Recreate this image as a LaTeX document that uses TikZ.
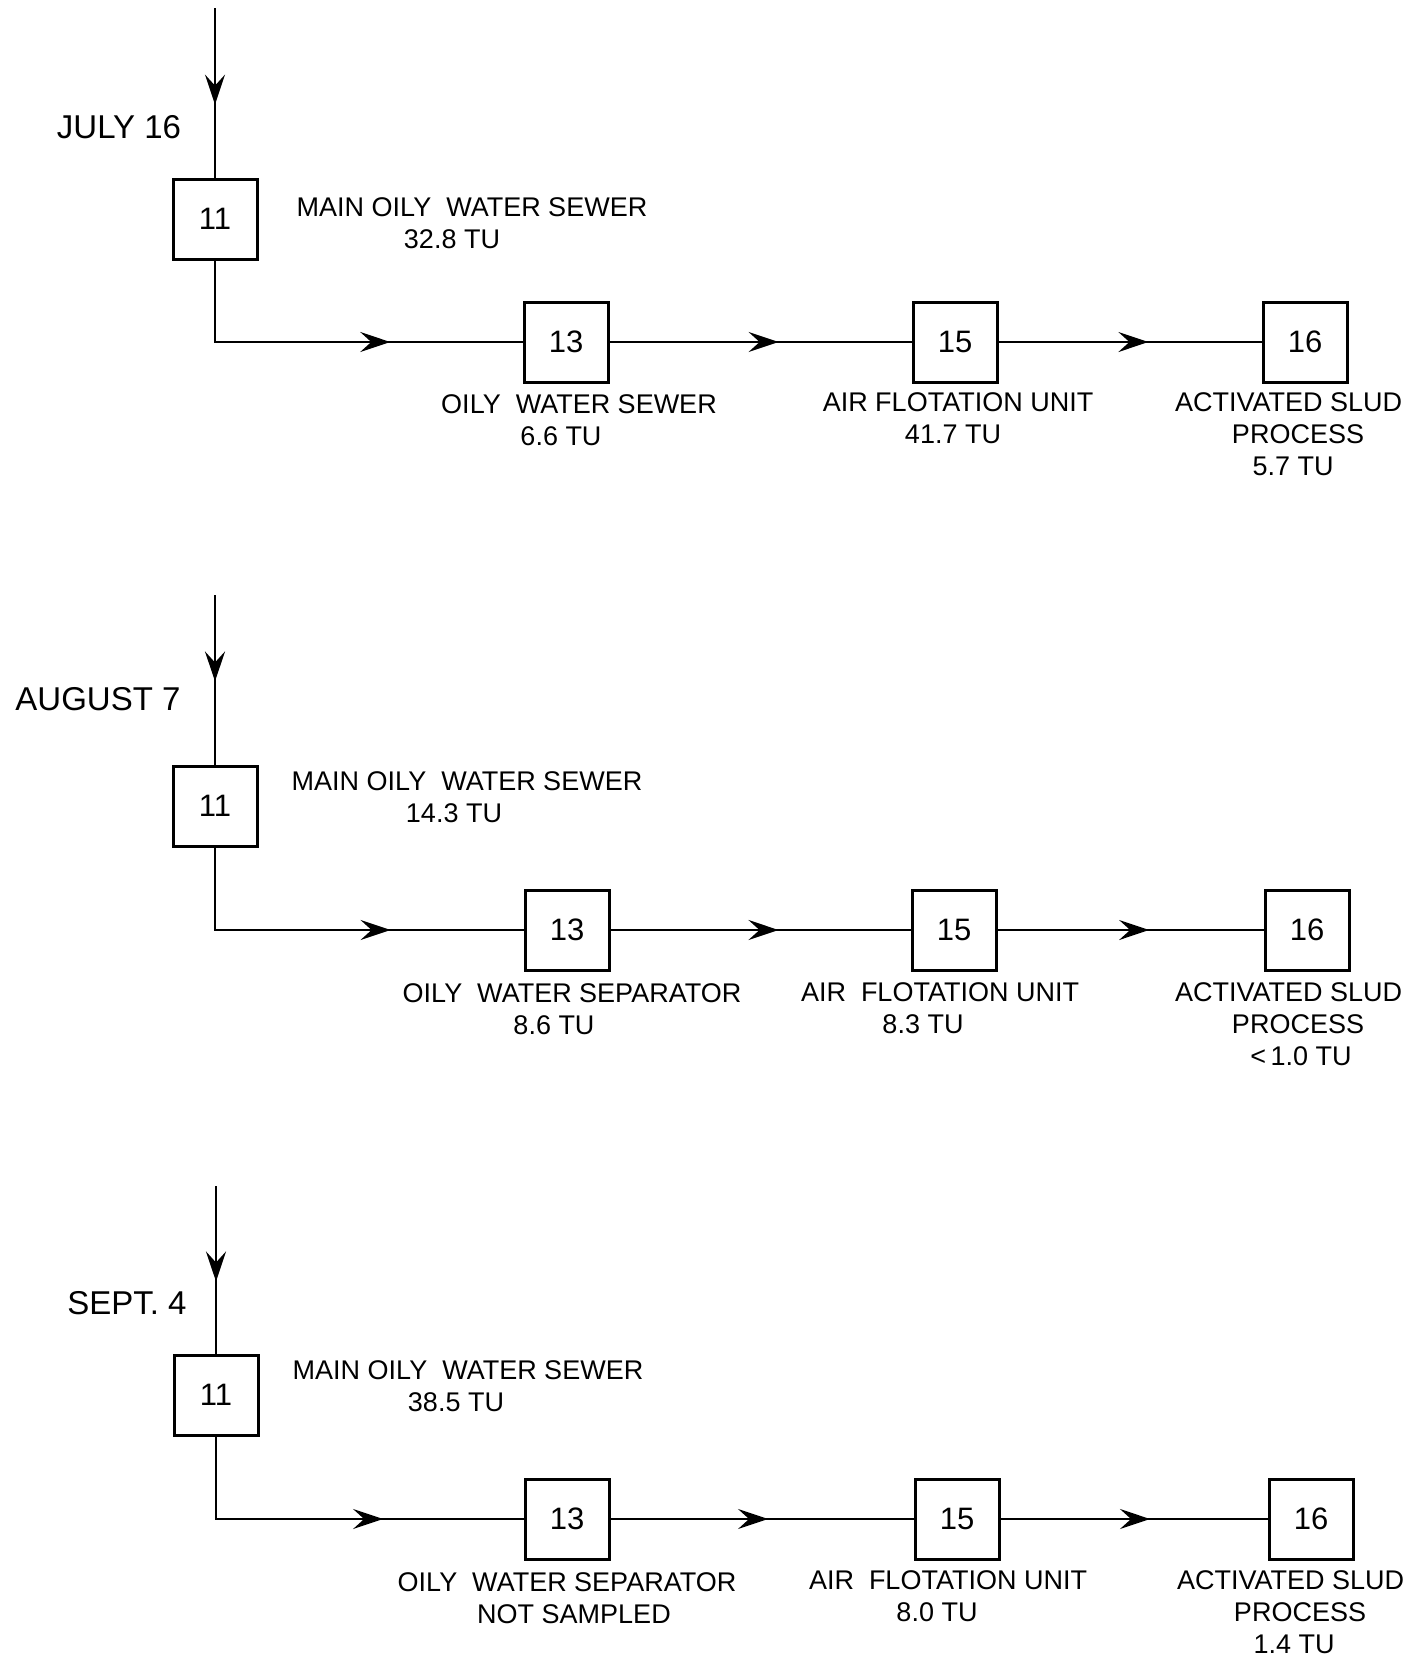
\documentclass[tikz,border=0pt]{standalone}
\usepackage{fontspec}
\setmainfont{Liberation Sans}
\usetikzlibrary{arrows.meta,positioning,decorations.markings}

\begin{document}
\begin{tikzpicture}[
        x=1pt, y=-1pt,
        every node/.style={inner sep=0pt},
        box/.style={draw, line width=3pt, minimum width=84pt, minimum height=80pt, font=\fontsize{31}{36}\selectfont},
        lbl/.style={font=\fontsize{27}{32}\selectfont},
        day/.style={font=\fontsize{33}{40}\selectfont},
        edge/.style={draw, line width=2.2pt},
        arr/.style={edge, postaction={decorate},
            decoration={markings, mark=at position #1 with {\arrow{Stealth[length=30pt, width=20pt, inset=11pt]}}}},
    ]
    \useasboundingbox (0,0) rectangle (1407,1660);

    % === JULY 16 ===
    \coordinate (a0) at (215,8);
    \node[day] (ad) at (119,127) {JULY 16};

    \node[box] (a11) at (215,219) {11};
    \node[lbl] (am) at (472,207) {MAIN OILY\ \ WATER SEWER};
    \node[lbl, below=13pt of am, xshift=-20pt] (amv) {32.8 TU};

    \node[box] (a13) at (566,342) {13};
    \node[box] (a15) at (955,342) {15};
    \node[box] (a16) at (1305,342) {16};

    \draw[arr=0.57] (a0) -- (a11);
    \draw[arr=0.66] (a11) |- (a13);
    \draw[arr=0.56] (a13) -- (a15);
    \draw[arr=0.57] (a15) -- (a16);

    \node[lbl] (a13l) at (579,404) {OILY\ \ WATER SEWER};
    \node[lbl, below=13pt of a13l, xshift=-18pt] (a13v) {6.6 TU};
    \node[lbl] (a15l) at (958,402) {AIR FLOTATION UNIT};
    \node[lbl, below=13pt of a15l, xshift=-5pt] (a15v) {41.7 TU};
    \node[lbl, anchor=west] (a16l) at (1175,402) {ACTIVATED SLUD};
    \node[lbl] (a16p) at (1298,434) {PROCESS};
    \node[lbl, below=13pt of a16p, xshift=-5pt] (a16v) {5.7 TU};

    % === AUGUST 7 ===
    \coordinate (b0) at (215,595);
    \node[day] (bd) at (98,699) {AUGUST 7};

    \node[box] (b11) at (215,806) {11};
    \node[lbl] (bm) at (467,781) {MAIN OILY\ \ WATER SEWER};
    \node[lbl, below=13pt of bm, xshift=-13pt] (bmv) {14.3 TU};

    \node[box] (b13) at (567,930) {13};
    \node[box] (b15) at (954,930) {15};
    \node[box] (b16) at (1307,930) {16};

    \draw[arr=0.51] (b0) -- (b11);
    \draw[arr=0.66] (b11) |- (b13);
    \draw[arr=0.56] (b13) -- (b15);
    \draw[arr=0.57] (b15) -- (b16);

    \node[lbl] (b13l) at (572,993) {OILY\ \ WATER SEPARATOR};
    \node[lbl, below=13pt of b13l, xshift=-18pt] (b13v) {8.6 TU};
    \node[lbl] (b15l) at (940,992) {AIR\ \ FLOTATION UNIT};
    \node[lbl, below=13pt of b15l, xshift=-17pt] (b15v) {8.3 TU};
    \node[lbl, anchor=west] (b16l) at (1175,992) {ACTIVATED SLUD};
    \node[lbl] (b16p) at (1298,1024) {PROCESS};
    \node[lbl, below=13pt of b16p, xshift=3pt] (b16v) {\textless\,1.0 TU};

    % === SEPT. 4 ===
    \coordinate (c0) at (216,1186);
    \node[day] (cd) at (127,1303) {SEPT. 4};

    \node[box] (c11) at (216,1395) {11};
    \node[lbl] (cm) at (468,1370) {MAIN OILY\ \ WATER SEWER};
    \node[lbl, below=13pt of cm, xshift=-12pt] (cmv) {38.5 TU};

    \node[box] (c13) at (567,1519) {13};
    \node[box] (c15) at (957,1519) {15};
    \node[box] (c16) at (1311,1519) {16};

    \draw[arr=0.57] (c0) -- (c11);
    \draw[arr=0.64] (c11) |- (c13);
    \draw[arr=0.52] (c13) -- (c15);
    \draw[arr=0.56] (c15) -- (c16);

    \node[lbl] (c13l) at (567,1582) {OILY\ \ WATER SEPARATOR};
    \node[lbl, below=13pt of c13l, xshift=7pt] (c13v) {NOT SAMPLED};
    \node[lbl] (c15l) at (948,1580) {AIR\ \ FLOTATION UNIT};
    \node[lbl, below=13pt of c15l, xshift=-11pt] (c15v) {8.0 TU};
    \node[lbl, anchor=west] (c16l) at (1177,1580) {ACTIVATED SLUD};
    \node[lbl] (c16p) at (1300,1612) {PROCESS};
    \node[lbl, below=13pt of c16p, xshift=-6pt] (c16v) {1.4 TU};

\end{tikzpicture}
\end{document}
